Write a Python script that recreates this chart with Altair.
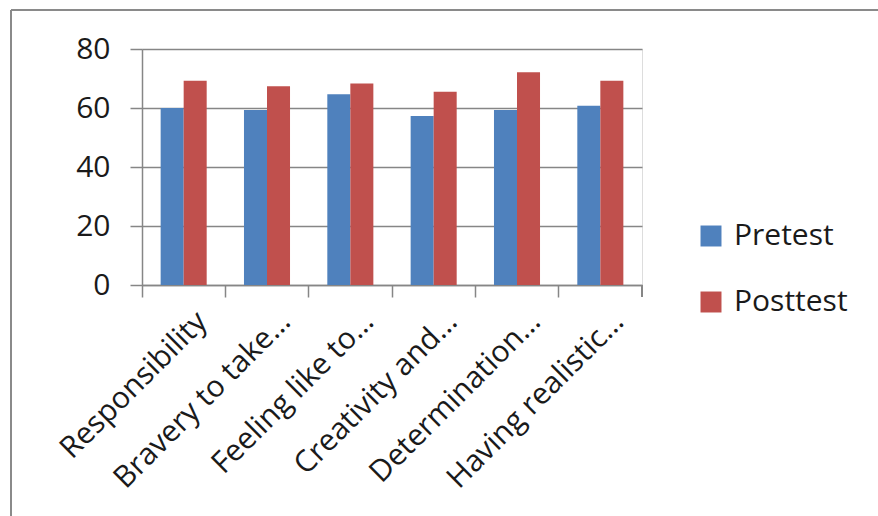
import altair as alt
import pandas as pd

categories = ["Responsibility", "Bravery to take…", "Feeling like to…",
              "Creativity and…", "Determination…", "Having realistic…"]
pretest = [60, 59.3, 64.7, 57.3, 59.3, 60.8]
posttest = [69.2, 67.4, 68.3, 65.5, 72.1, 69.2]
series = ["Pretest", "Posttest"]
colors = ["#4F81BD", "#C0504D"]

rows = []
for c, a, b in zip(categories, pretest, posttest):
    rows.append({"cat": c, "series": "Pretest", "value": a})
    rows.append({"cat": c, "series": "Posttest", "value": b})
df = pd.DataFrame(rows)

W, H = 500, 236
FONT = "Open Sans"
FS = 30

bars = alt.Chart(df).mark_bar().encode(
    x=alt.X("cat:N", sort=categories, title=None,
            scale=alt.Scale(paddingInner=0, paddingOuter=0),
            axis=alt.Axis(labelAngle=-45, labelFontSize=FS, labelFont=FONT,
                          labelColor="#1a1a1a", bandPosition=0, tickSize=12,
                          tickColor="#868686", tickWidth=1.5, domainColor="#868686",
                          domainWidth=1.5, labelPadding=9, grid=False, labelLimit=0,
                          labelOffset=8)),
    xOffset=alt.XOffset("series:N", sort=series,
                        scale=alt.Scale(paddingInner=0, paddingOuter=0.81)),
    y=alt.Y("value:Q", title=None,
            scale=alt.Scale(domain=[0, 80], nice=False),
            axis=alt.Axis(values=[0, 20, 40, 60, 80], labelFontSize=FS, labelFont=FONT,
                          labelColor="#1a1a1a", tickSize=12, tickColor="#868686",
                          tickWidth=1.5, domainColor="#868686", domainWidth=1.5,
                          gridColor="#868686", gridWidth=1.5, labelPadding=20)),
    color=alt.Color("series:N", sort=series, scale=alt.Scale(domain=series, range=colors),
                    legend=alt.Legend(title=None, orient="none", legendX=554, legendY=172,
                                      symbolType="square", symbolSize=440,
                                      symbolStrokeWidth=0, labelFontSize=FS,
                                      labelFont=FONT, labelColor="#1a1a1a",
                                      rowPadding=36, labelOffset=8)),
)

end_tick = alt.Chart(df).mark_rule(color="#868686", strokeWidth=1.5).encode(
    x=alt.value(W), y=alt.value(H), y2=alt.value(H + 12))

border_top = alt.Chart(df).mark_rule(color="#8a8a8a", strokeWidth=1.5).encode(
    x=alt.value(-131), x2=alt.value(900), y=alt.value(-39))
border_left = alt.Chart(df).mark_rule(color="#8a8a8a", strokeWidth=1.5).encode(
    x=alt.value(-131), y=alt.value(-39), y2=alt.value(600))

chart = alt.layer(bars, end_tick, border_top, border_left).properties(
    width=W, height=H,
    autosize=alt.AutoSizeParams(type="none"),
    padding={"left": 142, "top": 49, "right": 236, "bottom": 231},
).configure_view(stroke=None).configure(background="white")

chart.save("out.html", embed_options={"renderer": "svg", "actions": False})
